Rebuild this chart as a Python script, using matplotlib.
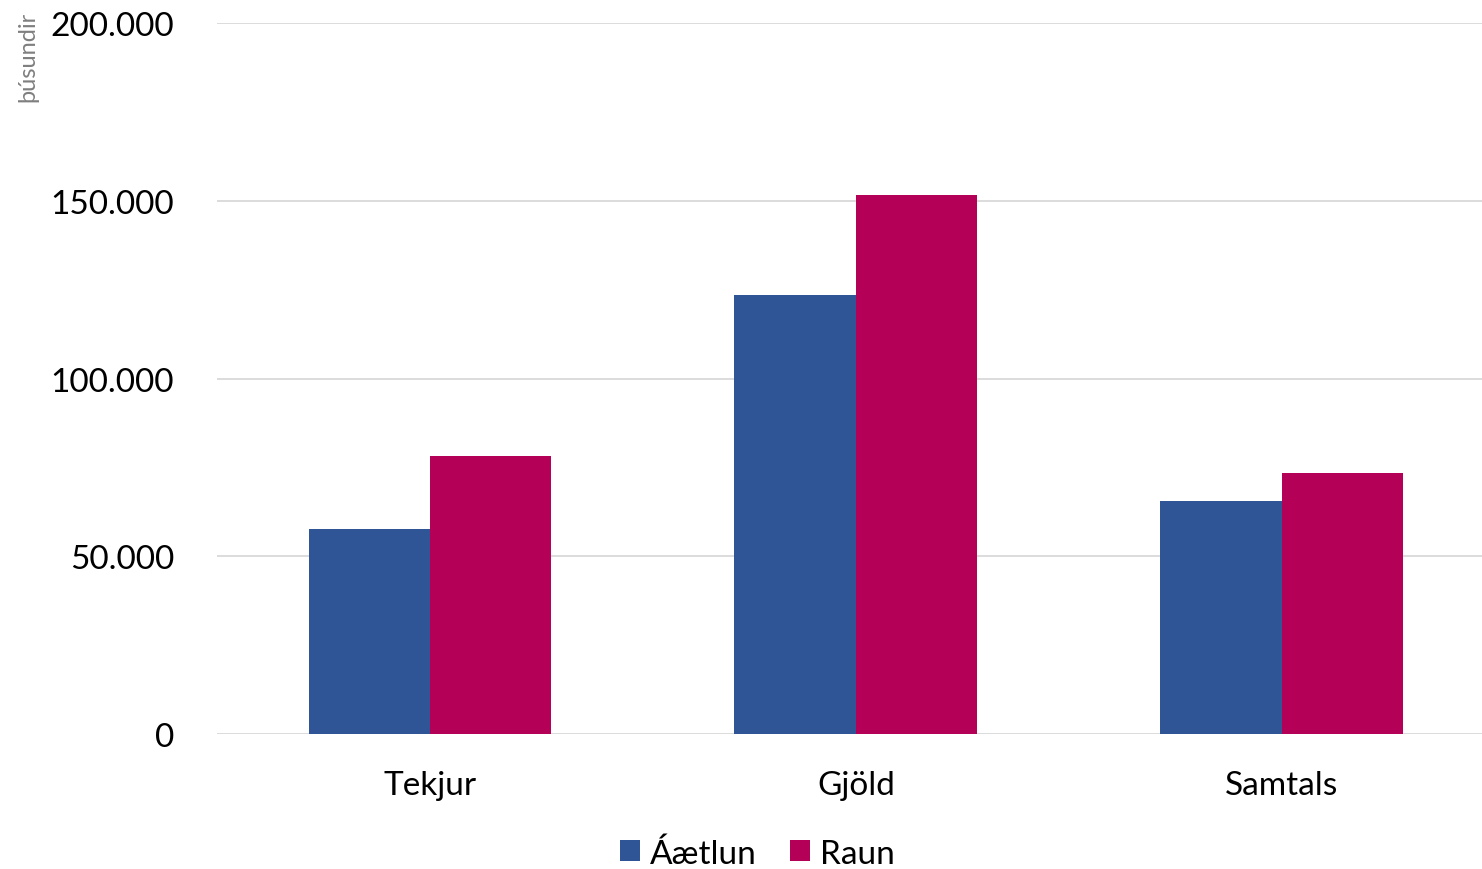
import numpy as np
import matplotlib.pyplot as plt
from matplotlib.ticker import FuncFormatter

plt.rcParams['font.family'] = ['Lato', 'DejaVu Sans']

# gögn (þúsundir króna)
flokkar = ['Tekjur', 'Gjöld', 'Samtals']
aaetlun = [57700, 123500, 65500]
raun = [78200, 151600, 73400]
y_ticks = [0, 50000, 100000, 150000, 200000]

blar = '#2F5597'
rauður = '#B40056'

fig = plt.figure(figsize=(14.82, 8.70), dpi=100)
ax = fig.add_axes([0.1464, 0.155, 0.8536, 0.8174])

x = np.arange(len(flokkar))
w = 0.285
ax.bar(x - w / 2, aaetlun, w, color=blar, label='Áætlun', zorder=3)
ax.bar(x + w / 2, raun, w, color=rauður, label='Raun', zorder=3)

ax.set_xlim(-0.5, 2.47)
ax.set_ylim(0, 200000)
ax.set_yticks(y_ticks)
ax.yaxis.set_major_formatter(FuncFormatter(lambda v, p: f'{int(v):,}'.replace(',', '.')))
ax.set_xticks(x)
ax.set_xticklabels(flokkar)
ax.grid(axis='y', color='#D9D9D9', linewidth=1.3, zorder=0)
for s in ax.spines.values():
    s.set_visible(False)
ax.tick_params(axis='both', length=0, labelsize=24)
ax.tick_params(axis='y', pad=31)
ax.tick_params(axis='x', pad=26)

fig.text(0.019, 0.987, 'þúsundir', rotation=90, ha='center', va='top',
         fontsize=17, color='#7F7F7F')

fig.legend(loc='center', bbox_to_anchor=(0.511, 0.018), ncol=2, frameon=False,
           fontsize=24, handlelength=0.6, handleheight=0.6, handletextpad=0.3,
           columnspacing=1.0)

fig.savefig('out.png', dpi=100)
